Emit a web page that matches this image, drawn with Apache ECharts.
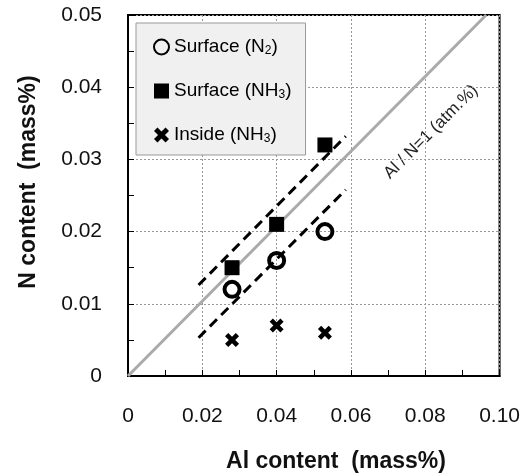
<!DOCTYPE html>
<html>
<head>
<meta charset="utf-8">
<script src="https://cdn.jsdelivr.net/npm/echarts@6/dist/echarts.min.js"></script>
<style>
html,body{margin:0;padding:0;background:#fff;}
#c{width:523px;height:474px;}
</style>
</head>
<body>
<div id="c"></div>
<script>
// ---- data ----
var xTickLabels = ['0', '0.02', '0.04', '0.06', '0.08', '0.10'];
var yTickLabels = ['0', '0.01', '0.02', '0.03', '0.04', '0.05'];
var seriesNames = ['Surface (N2)', 'Surface (NH3)', 'Inside (NH3)'];
var surfaceN2 = [[0.028, 0.012], [0.040, 0.016], [0.053, 0.020]];
var surfaceNH3 = [[0.028, 0.015], [0.040, 0.021], [0.053, 0.032]];
var insideNH3 = [[0.028, 0.005], [0.040, 0.007], [0.053, 0.006]];
var ratioLine = [[0, 0], [0.0964, 0.05]];
var upperBand = [[0.019, 0.0126], [0.0586, 0.0332]];
var lowerBand = [[0.019, 0.0053], [0.0586, 0.0258]];
var ratioLabel = 'Al / N=1 (atm.%)';
var xTitle = 'Al content  (mass%)';
var yTitle = 'N content  (mass%)';

var SANS = '"Liberation Sans", Arial, sans-serif';
var crossPath = 'path://M0,3 L3,0 L6.5,3.5 L10,0 L13,3 L9.5,6.5 L13,10 L10,13 L6.5,9.5 L3,13 L0,10 L3.5,6.5 Z';

var chart = echarts.init(document.getElementById('c'), null, {renderer: 'canvas'});
chart.setOption({
  backgroundColor: '#fff',
  animation: false,
  grid: {left: 128, top: 15, right: 17, bottom: 98, show: true, borderColor: '#000', borderWidth: 2, backgroundColor: 'transparent'},
  xAxis: {
    type: 'value', min: 0, max: 0.1, interval: 0.02,
    axisLine: {show: true, onZero: false, lineStyle: {color: '#000', width: 2}},
    axisTick: {show: true, inside: true, length: 6, lineStyle: {color: '#000', width: 1}},
    minorTick: {show: true, splitNumber: 2, length: 6, lineStyle: {color: '#000', width: 1}},
    splitLine: {show: true, lineStyle: {color: '#999', type: [2, 2], width: 1}},
    axisLabel: {margin: 30, color: '#111', fontFamily: SANS, fontSize: 21,
      formatter: function (v, i) { return xTickLabels[i]; }}
  },
  yAxis: {
    type: 'value', min: 0, max: 0.05, interval: 0.01,
    axisLine: {show: true, onZero: false, lineStyle: {color: '#000', width: 2}},
    axisTick: {show: true, inside: true, length: 6, lineStyle: {color: '#000', width: 1}},
    minorTick: {show: true, splitNumber: 2, length: 6, lineStyle: {color: '#000', width: 1}},
    splitLine: {show: true, lineStyle: {color: '#999', type: [2, 2], width: 1}},
    axisLabel: {margin: 26, color: '#111', fontFamily: SANS, fontSize: 21,
      formatter: function (v, i) { return yTickLabels[i]; }}
  },
  legend: {
    orient: 'vertical', left: 136, top: 23,
    padding: [14, 14, 10, 17], itemGap: 24, itemWidth: 15, itemHeight: 15,
    backgroundColor: '#f0f0f0', borderColor: '#999', borderWidth: 1,
    data: seriesNames,
    textStyle: {color: '#000', fontFamily: SANS, fontSize: 19, lineHeight: 20,
      rich: {sub: {fontFamily: SANS, fontSize: 12, lineHeight: 12, verticalAlign: 'bottom', color: '#000'}}},
    formatter: function (name) { return name.replace(/(\d)\)$/, '{sub|$1})'); }
  },
  graphic: [
    {type: 'text', x: 336, y: 462, style: {text: xTitle, font: 'bold 23px ' + SANS, fill: '#111', align: 'center', verticalAlign: 'middle'}},
    {type: 'text', x: 29, y: 182, rotation: Math.PI / 2, style: {text: yTitle, font: 'bold 23px ' + SANS, fill: '#111', align: 'center', verticalAlign: 'middle'}},
    {type: 'text', x: 431, y: 132, rotation: Math.PI / 4, style: {text: ratioLabel, font: '17px ' + SANS, fill: '#222', align: 'center', verticalAlign: 'middle'}}
  ],
  series: [
    {type: 'line', data: ratioLine, symbol: 'none', silent: true, z: 1,
      lineStyle: {color: '#aaa', width: 3}},
    {type: 'line', data: upperBand, symbol: 'none', silent: true, z: 2,
      lineStyle: {color: '#000', width: 3, type: [10, 6]}},
    {type: 'line', data: lowerBand, symbol: 'none', silent: true, z: 2,
      lineStyle: {color: '#000', width: 3, type: [10, 6]}},
    {name: seriesNames[0], type: 'scatter', data: surfaceN2, symbol: 'circle', symbolSize: 15, z: 5,
      itemStyle: {color: 'rgba(255,255,255,0)', borderColor: '#000', borderWidth: 4, opacity: 1}},
    {name: seriesNames[1], type: 'scatter', data: surfaceNH3, symbol: 'rect', symbolSize: 15, z: 5,
      itemStyle: {color: '#000', opacity: 1}},
    {name: seriesNames[2], type: 'scatter', data: insideNH3, symbol: crossPath, symbolSize: 14, z: 5,
      itemStyle: {color: '#000', opacity: 1}}
  ]
});
</script>
</body>
</html>
